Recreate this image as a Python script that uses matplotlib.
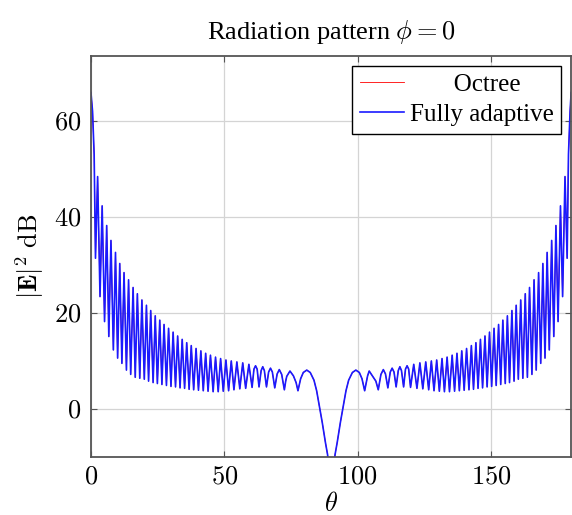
import matplotlib
matplotlib.use("Agg")
import matplotlib.pyplot as plt
from matplotlib.ticker import FuncFormatter

plt.rcParams['font.family'] = 'serif'
plt.rcParams['font.serif'] = ['Liberation Serif', 'DejaVu Serif']
plt.rcParams['mathtext.fontset'] = 'cm'

# values (peaks, troughs and a few shoulder points)
theta_deg = [
    0.0, 0.6, 1.2, 1.7, 2.5, 3.4, 4.2, 5.1, 5.9, 6.7, 7.5, 8.4, 9.2, 10.0,
    10.8, 11.6, 12.4, 13.3, 14.1, 14.9, 15.8, 16.6, 17.4, 18.3, 19.1, 20.0,
    20.8, 21.6, 22.4, 23.3, 24.1, 24.9, 25.8, 26.6, 27.4, 28.3, 29.1, 30.0,
    30.8, 31.7, 32.5, 33.4, 34.2, 35.1, 35.9, 36.8, 37.6, 38.5, 39.4, 40.3,
    41.2, 42.1, 43.0, 43.9, 44.8, 45.8, 46.7, 47.7, 48.6, 49.6, 50.6, 51.6,
    52.6, 53.6, 54.7, 55.8, 56.9, 58.0, 59.2, 60.4, 61.1, 61.7, 62.3, 63.0,
    63.8, 64.4, 65.0, 65.8, 66.6, 67.3, 68.0, 68.9, 69.8, 70.6, 71.5, 72.5,
    73.0, 73.4, 74.6, 75.9, 76.9, 77.6, 78.6, 79.6, 80.9, 82.2, 83.6, 84.6,
    85.4, 86.7, 87.9, 88.7, 89.3, 90.1,
    90.9, 91.5, 92.3, 93.5, 94.8, 95.6, 96.6, 98.0, 99.3, 100.6, 101.6,
    102.6, 103.2, 103.7, 104.3, 105.6, 106.8, 107.7, 108.7, 109.6, 110.4,
    111.3, 112.2, 112.9, 113.6, 114.4, 115.2, 115.8, 116.4, 117.2, 117.9,
    118.5, 119.1, 119.8, 121.0, 122.2, 123.3, 124.4, 125.5, 126.6, 127.6,
    128.6, 129.6, 130.6, 131.6, 132.5, 133.5, 134.4, 135.4, 136.3, 137.2,
    138.1, 139.0, 139.9, 140.8, 141.7, 142.6, 143.4, 144.3, 145.1, 146.0,
    146.8, 147.7, 148.5, 149.4, 150.2, 151.1, 151.9, 152.8, 153.6, 154.4,
    155.3, 156.1, 156.9, 157.8, 158.6, 159.4, 160.2, 161.1, 161.9, 162.8,
    163.6, 164.4, 165.3, 166.1, 166.9, 167.8, 168.6, 169.4, 170.2, 171.0,
    171.8, 172.7, 173.5, 174.3, 175.1, 176.0, 176.8, 177.7, 178.5, 179.0,
    179.6, 180.0,
]
fully_adaptive_db = [
    65.9, 62.0, 53.0, 31.4, 48.4, 23.4, 42.3, 18.2, 38.2, 15.1, 35.1, 12.3,
    32.6, 10.6, 30.3, 9.5, 28.4, 8.1, 26.9, 7.2, 25.3, 6.6, 24.0, 6.4, 22.7,
    6.2, 21.6, 5.8, 20.5, 5.5, 19.4, 5.3, 18.5, 5.1, 17.6, 4.9, 16.8, 4.7,
    16.0, 4.6, 15.2, 4.4, 14.5, 4.3, 13.8, 4.1, 13.2, 4.0, 12.6, 3.9, 12.1,
    3.8, 11.6, 3.7, 11.2, 3.6, 10.8, 3.6, 10.5, 3.7, 10.2, 3.8, 10.0, 4.0,
    9.8, 4.2, 9.6, 4.3, 9.3, 4.5, 8.3, 9.0, 8.3, 4.6, 8.0, 8.8, 8.0, 4.6,
    7.7, 8.5, 7.7, 4.4, 7.3, 8.2, 7.2, 4.0, 5.8, 6.8, 7.9, 6.9, 5.5, 3.8,
    6.3, 7.6, 8.1, 7.6, 6.0, 3.8, 1.3, -2.8, -7.0, -9.5, -12.5, -40.0,
    -12.5, -9.5, -7.0, -2.8, 1.3, 3.8, 6.0, 7.6, 8.1, 7.6, 6.3,
    3.8, 5.5, 6.9, 7.9, 6.8, 5.8, 4.0, 7.2, 8.2, 7.3,
    4.4, 7.7, 8.5, 7.7, 4.6, 8.0, 8.8, 8.0, 4.6, 8.3,
    9.0, 8.3, 4.5, 9.3, 4.3, 9.6, 4.2, 9.8, 4.0, 10.0,
    3.8, 10.2, 3.7, 10.5, 3.6, 10.8, 3.6, 11.2, 3.7, 11.6,
    3.8, 12.1, 3.9, 12.6, 4.0, 13.2, 4.1, 13.8, 4.3, 14.5,
    4.4, 15.2, 4.6, 16.0, 4.7, 16.8, 4.9, 17.6, 5.1, 18.5,
    5.3, 19.4, 5.5, 20.5, 5.8, 21.6, 6.2, 22.7, 6.4, 24.0,
    6.6, 25.3, 7.2, 26.9, 8.1, 28.4, 9.5, 30.3, 10.6, 32.6,
    12.3, 35.1, 15.1, 38.2, 18.2, 42.3, 23.4, 48.4, 31.4, 53.0,
    62.0, 65.9,
]
# the octree solution lies under the fully adaptive one everywhere
octree_db = list(fully_adaptive_db)

x_ticks = [0, 50, 100, 150]
y_ticks = [0, 20, 40, 60]

fig = plt.figure(figsize=(5.72, 5.15), dpi=100)
ax = fig.add_axes([0.159, 0.1126, 0.8395, 0.7786])

ax.plot(theta_deg, octree_db, color='red', lw=0.6, label='Octree')
ax.plot(theta_deg, fully_adaptive_db, color='#1a1aff', lw=1.2,
        label='Fully adaptive')

ax.set_xlim(0, 180)
ax.set_ylim(-10, 73.5)
ax.set_xticks(x_ticks)
ax.set_yticks(y_ticks)
fmt = FuncFormatter(lambda v, p: f'${v:g}$')
ax.xaxis.set_major_formatter(fmt)
ax.yaxis.set_major_formatter(fmt)
ax.tick_params(labelsize=19, direction='in', length=4, width=0.8,
               color='#555555', pad=7, top=True, right=True)
ax.grid(True, color='#d4d4d4', lw=0.9)
ax.set_axisbelow(True)
for s in ax.spines.values():
    s.set_color('#555555')
    s.set_linewidth(1.3)

ax.set_title(r'Radiation pattern $\phi = 0$', fontsize=19, pad=12)
ax.set_xlabel(r'$\theta$', fontsize=19, labelpad=2)
ax.set_ylabel(r'$|\mathbf{E}|^2\ \mathrm{dB}$', fontsize=19, labelpad=6)

leg = ax.legend(loc='upper right', fontsize=18, frameon=True, fancybox=False,
                edgecolor='black', framealpha=1, handlelength=1.75,
                borderaxespad=0.4, handletextpad=0.25, labelspacing=0.3,
                borderpad=0.3)
leg.get_frame().set_linewidth(1.0)
leg.get_texts()[0].set_text('       Octree')

fig.savefig('out.png', dpi=100)
